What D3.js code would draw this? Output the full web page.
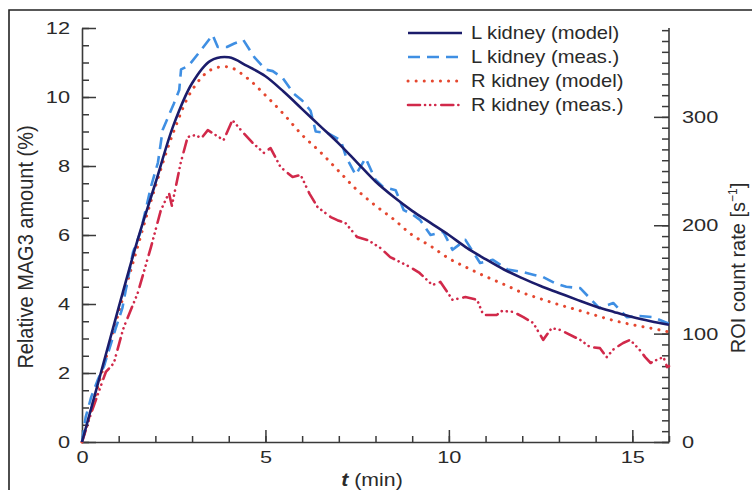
<!DOCTYPE html>
<html><head><meta charset="utf-8">
<script src="https://cdn.jsdelivr.net/npm/d3@7"></script>
<style>
html,body{margin:0;padding:0;background:#fff;}
svg{display:block;font-family:"Liberation Sans",Arial,Helvetica,sans-serif;}
</style></head>
<body><svg id="chart" width="752" height="490"></svg>
<script>
// ---- data ----
const tModel = [0,0.5,1,1.5,2,2.5,3,3.5,4,4.5,5,5.5,6,6.5,7,7.5,8,8.5,9,9.5,10,10.5,11,11.5,12,12.5,13,13.5,14,14.5,15,15.5,16];
const lModel = [0,1.95,3.9,5.8,7.5,9.2,10.4,11.05,11.15,10.9,10.6,10.15,9.65,9.15,8.65,8.1,7.55,7.1,6.7,6.35,6.0,5.62,5.3,5.0,4.75,4.52,4.32,4.12,3.93,3.77,3.62,3.5,3.4];
const rModel = [0,1.85,3.75,5.6,7.4,9.0,10.2,10.78,10.87,10.55,10.05,9.5,8.9,8.4,7.85,7.3,6.85,6.45,6.0,5.68,5.32,5.05,4.8,4.57,4.33,4.15,3.98,3.83,3.67,3.52,3.4,3.3,3.19];
const lMeasT = [0,0.1,0.25,0.43,0.6,0.92,1.1,1.39,1.6,1.88,2.07,2.2,2.5,2.65,2.7,2.9,3.2,3.56,3.7,3.95,4.15,4.4,4.7,5.0,5.2,5.47,5.77,6.0,6.23,6.37,6.7,7.05,7.2,7.46,7.73,8.0,8.2,8.55,8.77,9.0,9.22,9.5,9.85,10.1,10.45,10.85,11.2,11.6,12.0,12.3,12.57,12.9,13.2,13.58,14.1,14.48,14.85,15.2,15.56,15.95,16];
const lMeasV = [0,0.72,1.3,1.8,2.2,3.3,3.88,5.5,6.1,7.4,8.1,9.05,9.8,10.2,10.8,10.9,11.3,11.8,11.45,11.45,11.55,11.65,11.15,10.8,10.75,10.55,10.1,9.9,9.6,9.0,8.95,8.75,8.26,7.74,8.23,7.6,7.4,7.3,6.72,6.6,6.43,6.0,6.09,5.57,5.86,5.19,5.28,5.0,4.93,4.85,4.78,4.6,4.5,4.46,3.88,4.03,3.62,3.65,3.62,3.45,3.45];
const rMeasT = [0,0.25,0.65,0.87,1.06,1.14,1.52,1.88,2.15,2.37,2.45,2.69,2.88,3.1,3.25,3.43,3.86,4.1,4.4,4.65,4.96,5.14,5.41,5.74,5.96,6.2,6.42,6.78,6.96,7.18,7.5,7.8,8.14,8.4,8.95,9.2,9.55,9.77,10.1,10.45,10.77,10.94,11.3,11.45,11.76,12.03,12.3,12.57,12.8,13.03,13.58,13.85,14.12,14.3,14.5,14.75,14.94,15.2,15.35,15.5,15.7,15.85,15.95,16];
const rMeasV = [0,0.84,2.03,2.29,3.04,3.33,4.32,5.65,6.72,7.22,6.85,8.09,8.84,8.9,8.8,9.04,8.75,9.33,8.96,8.67,8.38,8.52,7.97,7.68,7.74,7.2,6.81,6.52,6.43,6.35,5.94,5.85,5.62,5.36,5.07,4.9,4.55,4.64,4.12,4.2,4.12,3.68,3.68,3.8,3.77,3.62,3.45,2.96,3.3,3.25,2.96,2.75,2.72,2.46,2.7,2.87,2.96,2.67,2.46,2.29,2.4,2.46,2.17,2.2];
const xTicks = [0,5,10,15];
const yLeftTicks = [0,2,4,6,8,10,12];
const yRightTicks = [0,100,200,300];
const seriesNames = ["L kidney (model)","L kidney (meas.)","R kidney (model)","R kidney (meas.)"];

// ---- layout ----
const svg = d3.select("#chart");
const X0 = 82, X1 = 669, Y0 = 442, Y1 = 28;
const x = d3.scaleLinear().domain([0,16]).range([X0,X1]);
const yL = d3.scaleLinear().domain([0,12]).range([Y0,Y1]);
const yR = d3.scaleLinear().domain([0,382]).range([Y0,Y1]);
const axisCol = "#3a3a3a";
const SX = 1.28;

// frame
svg.append("path").attr("d", `M9,490 L9,10 L752,10`).attr("fill","none").attr("stroke","#222").attr("stroke-width",1.6);

function styleAxis(g){
  g.selectAll("path.domain").attr("stroke",axisCol).attr("stroke-width",1.6);
  g.selectAll(".tick line").attr("stroke",axisCol).attr("stroke-width",1.5);
  g.selectAll("text").attr("fill","#2a2a2a").attr("font-size",17);
}

// left axis
const gLmin = svg.append("g").attr("transform",`translate(${X0},0)`)
  .call(d3.axisLeft(yL).tickValues(d3.range(0,12.01,0.5)).tickSizeInner(-7).tickSizeOuter(0).tickFormat(""));
gLmin.select(".domain").remove(); styleAxis(gLmin);
const gL = svg.append("g").attr("transform",`translate(${X0},0)`)
  .call(d3.axisLeft(yL).tickValues(yLeftTicks).tickSizeInner(-14).tickSizeOuter(0).tickPadding(12).tickFormat(d3.format("d")));
styleAxis(gL);
gL.selectAll("text").attr("x",-12/SX).attr("transform",`scale(${SX},1)`);

// right axis
const gRmin = svg.append("g").attr("transform",`translate(${X1},0)`)
  .call(d3.axisRight(yR).tickValues(d3.range(0,381,10)).tickSizeInner(-7).tickSizeOuter(0).tickFormat(""));
gRmin.select(".domain").remove(); styleAxis(gRmin);
const gR = svg.append("g").attr("transform",`translate(${X1},0)`)
  .call(d3.axisRight(yR).tickValues(yRightTicks).tickSizeInner(-15).tickSizeOuter(0).tickPadding(13).tickFormat(d3.format("d")));
styleAxis(gR);
gR.selectAll("path.domain").attr("d",`M0,${Y0}V${Y1}`);
gR.selectAll("text").attr("x",13/SX).attr("transform",`scale(${SX},1)`);

// bottom axis
const gBmin = svg.append("g").attr("transform",`translate(0,${Y0})`)
  .call(d3.axisBottom(x).tickValues(d3.range(0,16.01,1)).tickSizeInner(-6).tickSizeOuter(0).tickFormat(""));
gBmin.select(".domain").remove(); styleAxis(gBmin);
const gB = svg.append("g").attr("transform",`translate(0,${Y0})`)
  .call(d3.axisBottom(x).tickValues(xTicks).tickSizeInner(-12).tickSizeOuter(0).tickPadding(9).tickFormat(d3.format("d")));
styleAxis(gB);
gB.selectAll("text").attr("transform",`scale(${SX},1)`);

// axis titles
svg.append("text").attr("transform",`translate(33,247) rotate(-90) scale(1,1.12)`)
  .attr("text-anchor","middle").attr("font-size",20).attr("fill","#2a2a2a").text("Relative MAG3 amount (%)");
const rt = svg.append("text").attr("transform",`translate(745,268) rotate(-90) scale(1,1.05)`)
  .attr("text-anchor","middle").attr("font-size",20).attr("fill","#2a2a2a");
rt.append("tspan").text("ROI count rate [s");
rt.append("tspan").attr("font-size",12).attr("dy",-8).text("−1");
rt.append("tspan").attr("dy",8).text("]");
const xt = svg.append("text").attr("transform",`translate(372,486) scale(1.12,1)`)
  .attr("text-anchor","middle").attr("font-size",19).attr("fill","#2a2a2a");
xt.append("tspan").attr("font-style","italic").attr("font-weight","bold").text("t");
xt.append("tspan").text(" (min)");

// series
const styles = [
  {color:"#1b1c6b", dash:null, width:2.6, cap:"butt"},
  {color:"#3f8fe3", dash:"12,7", width:2.6, cap:"butt"},
  {color:"#e5472f", dash:"0.1,8", width:3, cap:"round"},
  {color:"#d1294a", dash:"12,5,0.1,5,0.1,5,0.1,6", width:2.6, cap:"round"}
];
const modelLine = d3.line().curve(d3.curveCatmullRom.alpha(0.5));
const measLine = d3.line();
const paths = [
  {d: modelLine(tModel.map((t,i)=>[x(t),yL(lModel[i])])), s:0},
  {d: measLine(lMeasT.map((t,i)=>[x(t),yL(lMeasV[i])])), s:1},
  {d: modelLine(tModel.map((t,i)=>[x(t),yL(rModel[i])])), s:2},
  {d: measLine(rMeasT.map((t,i)=>[x(t),yL(rMeasV[i])])), s:3}
];
// draw order: R meas, R model, L meas, L model on top
[3,2,1,0].forEach(k=>{
  const p = paths[k], st = styles[p.s];
  svg.append("path").attr("d",p.d).attr("fill","none").attr("stroke",st.color)
    .attr("stroke-width",st.width).attr("stroke-dasharray",st.dash).attr("stroke-linecap",st.cap)
    .attr("stroke-linejoin","round");
});

// legend
const legY = [33,57,81,105];
seriesNames.forEach((name,i)=>{
  const st = styles[i];
  svg.append("line").attr("x1",408).attr("x2",462).attr("y1",legY[i]).attr("y2",legY[i])
    .attr("stroke",st.color).attr("stroke-width",st.width).attr("stroke-dasharray",st.dash).attr("stroke-linecap",st.cap);
  svg.append("text").attr("transform",`translate(471,${legY[i]+6}) scale(1.12,1)`)
    .attr("font-size",18).attr("fill","#2a2a2a").text(name);
});
</script></body></html>
